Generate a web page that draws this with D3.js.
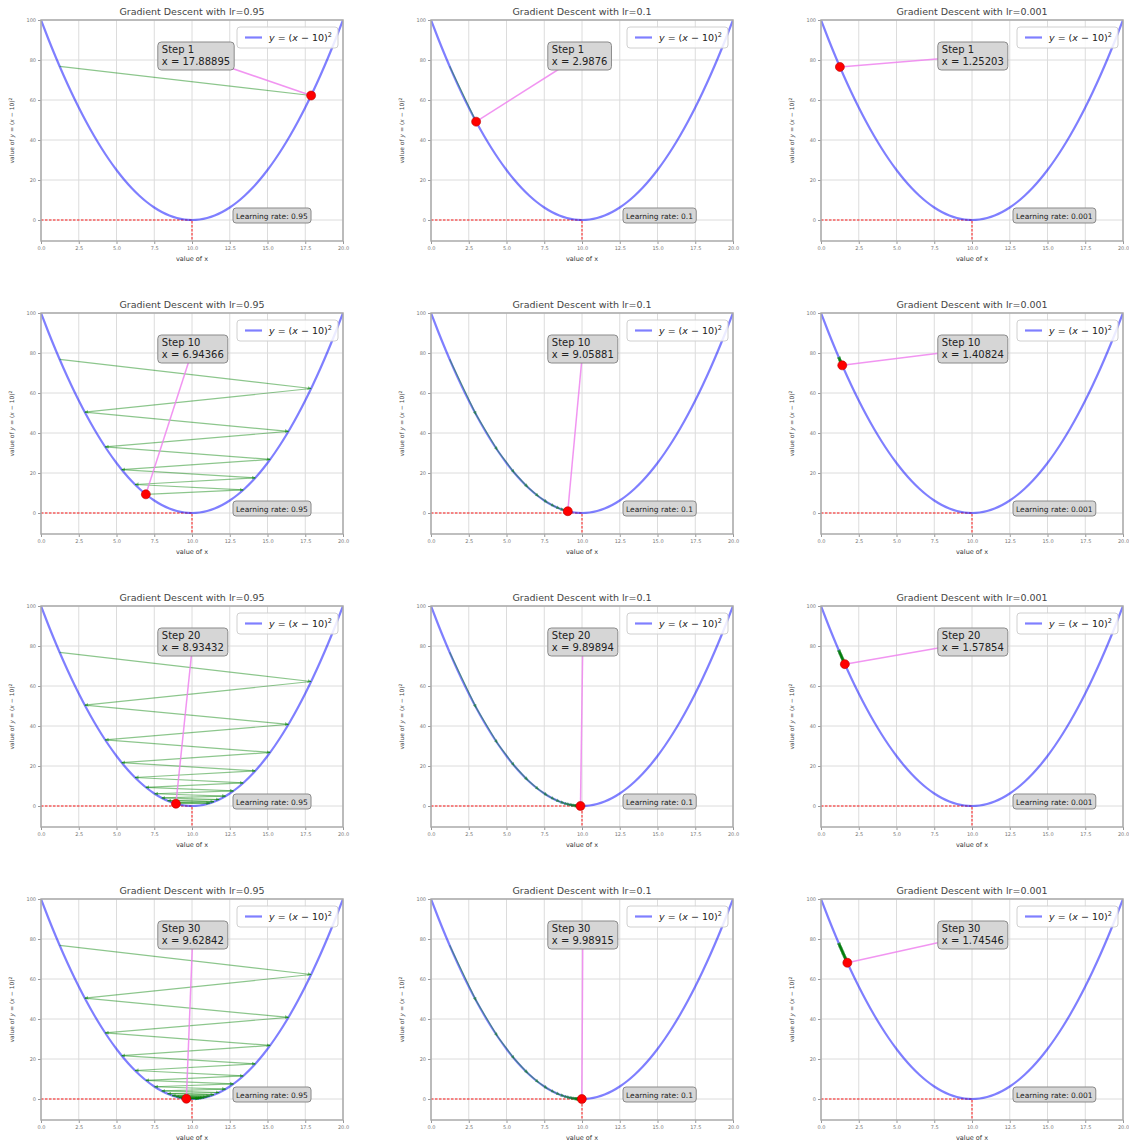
<!DOCTYPE html>
<html>
<head>
<meta charset="utf-8">
<script src="https://cdn.jsdelivr.net/npm/d3@7"></script>
<style>
  body { margin: 0; background: #fff; }
</style>
</head>
<body>
<div id="my_dataviz"></div>
<script>
// data
const learningRates = [0.95, 0.1, 0.001];
const lrLabels = [`0.95`, `0.1`, `0.001`];
const shownSteps = [1, 10, 20, 30];

// parabola samples
const curveX = [0,0.5,1,1.5,2,2.5,3,3.5,4,4.5,5,5.5,6,6.5,7,7.5,8,8.5,9,9.5,10,
                10.5,11,11.5,12,12.5,13,13.5,14,14.5,15,15.5,16,16.5,17,17.5,18,18.5,19,19.5,20];
const curveY = [100,90.25,81,72.25,64,56.25,49,42.25,36,30.25,25,20.25,16,12.25,9,6.25,4,2.25,1,0.25,0,
                0.25,1,2.25,4,6.25,9,12.25,16,20.25,25,30.25,36,42.25,49,56.25,64,72.25,81,90.25,100];

// descent path, steps 0..30
const pathX095 = [1.235,17.889,2.900,16.390,4.249,15.176,5.342,14.193,6.227,13.396,6.944,
                  12.751,7.524,12.228,7.995,11.805,8.376,11.462,8.684,11.184,8.934,
                  10.959,9.137,10.777,9.301,10.629,9.434,10.510,9.541,10.413,9.628];
const pathY095 = [76.83,62.24,50.41,40.83,33.07,26.79,21.70,17.58,14.24,11.53,9.34,
                  7.57,6.13,4.96,4.02,3.26,2.64,2.14,1.73,1.40,1.14,
                  0.92,0.75,0.60,0.49,0.40,0.32,0.26,0.21,0.17,0.14];
const pathX01 = [1.235,2.988,4.390,5.512,6.410,7.128,7.702,8.162,8.529,8.824,9.059,
                 9.247,9.398,9.518,9.615,9.692,9.753,9.803,9.842,9.874,9.899,
                 9.919,9.935,9.948,9.959,9.967,9.974,9.979,9.983,9.986,9.989];
const pathY01 = [76.83,49.17,31.47,20.14,12.89,8.25,5.28,3.38,2.16,1.38,0.89,
                 0.57,0.36,0.23,0.15,0.10,0.06,0.04,0.03,0.02,0.01,
                 0.01,0,0,0,0,0,0,0,0,0];
const pathX0001 = [1.235,1.252,1.270,1.287,1.304,1.322,1.339,1.357,1.374,1.391,1.408,
                   1.425,1.443,1.460,1.477,1.494,1.511,1.528,1.545,1.562,1.579,
                   1.595,1.612,1.629,1.646,1.662,1.679,1.696,1.712,1.729,1.745];
const pathY0001 = [76.83,76.53,76.22,75.92,75.61,75.31,75.01,74.71,74.41,74.12,73.82,
                   73.52,73.23,72.94,72.65,72.36,72.07,71.78,71.49,71.21,70.92,
                   70.64,70.36,70.08,69.79,69.52,69.24,68.96,68.69,68.41,68.14];

// x shown in the step boxes
const labels095 = [`17.88895`, `6.94366`, `8.93432`, `9.62842`];
const labels01 = [`2.9876`, `9.05881`, `9.89894`, `9.98915`];
const labels0001 = [`1.25203`, `1.40824`, `1.57854`, `1.74546`];

const xTicks = [0, 2.5, 5, 7.5, 10, 12.5, 15, 17.5, 20];
const yTicks = [0, 20, 40, 60, 80, 100];

// layout
const width = 1129;
const height = 1141;
const panelLeft = [41, 431, 821];
const panelTop = 20;
const rowGap = 293;
const panelW = 302;
const panelH = 221;
const fontFamily = `"DejaVu Sans", Arial, sans-serif`;
const curveColor = `#0000ff`;
const pathColor = `green`;

const xScale = d3.scaleLinear().domain([0, 20]).range([0, panelW]);
const yScale = d3.scaleLinear().domain([-10.5, 100]).range([panelH, 0]);

var svg;

document.addEventListener(`DOMContentLoaded`, function () {
    svg = d3.select(`#my_dataviz`)
            .append(`svg`)
                .attr(`width`, width)
                .attr(`height`, height)
                .style(`font-family`, fontFamily);

    const defs = svg.append(`defs`);
    defs.append(`marker`)
        .attr(`id`, `arrowHead`)
        .attr(`viewBox`, `0 0 10 10`)
        .attr(`refX`, 9)
        .attr(`refY`, 5)
        .attr(`markerWidth`, 4)
        .attr(`markerHeight`, 4)
        .attr(`markerUnits`, `userSpaceOnUse`)
        .attr(`orient`, `auto`)
      .append(`path`)
        .attr(`d`, `M0,0 L10,5 L0,10 z`)
        .attr(`fill`, pathColor)
        .attr(`fill-opacity`, 0.45);

    defs.append(`clipPath`)
        .attr(`id`, `panelClip`)
      .append(`rect`)
        .attr(`width`, panelW)
        .attr(`height`, panelH);

    const paths = [
        {xs: pathX095, ys: pathY095, labels: labels095},
        {xs: pathX01, ys: pathY01, labels: labels01},
        {xs: pathX0001, ys: pathY0001, labels: labels0001}
    ];

    shownSteps.forEach((step, r) => {
        learningRates.forEach((lr, c) => {
            drawPanel(panelLeft[c], panelTop + r * rowGap, step, lrLabels[c], paths[c], r);
        });
    });
});

const drawPanel = (left, top, step, lrText, path, r) => {
    const g = svg.append(`g`)
                .attr(`transform`, `translate(${left},${top})`);

    // grid
    g.append(`g`).selectAll(`line`)
        .data(xTicks)
        .join(`line`)
        .attr(`x1`, d => xScale(d)).attr(`x2`, d => xScale(d))
        .attr(`y1`, 0).attr(`y2`, panelH)
        .attr(`stroke`, `#dcdcdc`)
        .attr(`stroke-width`, 1);
    g.append(`g`).selectAll(`line`)
        .data(yTicks)
        .join(`line`)
        .attr(`y1`, d => yScale(d)).attr(`y2`, d => yScale(d))
        .attr(`x1`, 0).attr(`x2`, panelW)
        .attr(`stroke`, `#dcdcdc`)
        .attr(`stroke-width`, 1);

    // axes
    const xAxis = g.append(`g`)
        .attr(`transform`, `translate(0,${panelH})`)
        .call(d3.axisBottom(xScale).tickValues(xTicks).tickFormat(d3.format(`.1f`)).tickSize(3).tickPadding(2));
    const yAxis = g.append(`g`)
        .call(d3.axisLeft(yScale).tickValues(yTicks).tickSize(3).tickPadding(2));
    [xAxis, yAxis].forEach(a => {
        a.select(`.domain`).remove();
        a.selectAll(`line`).attr(`stroke`, `#999`);
        a.selectAll(`text`)
            .attr(`fill`, `#777`)
            .style(`font-size`, `5px`)
            .style(`font-family`, fontFamily);
    });

    const plot = g.append(`g`).attr(`clip-path`, `url(#panelClip)`);

    // red marker of the minimum
    plot.append(`path`)
        .attr(`d`, `M${xScale(0)},${yScale(0)} L${xScale(10)},${yScale(0)} L${xScale(10)},${panelH}`)
        .attr(`fill`, `none`)
        .attr(`stroke`, `red`)
        .attr(`stroke-opacity`, 0.6)
        .attr(`stroke-width`, 1.5)
        .attr(`stroke-dasharray`, `2.5,1.5`);

    // the function
    const line = d3.line()
        .x((d, i) => xScale(curveX[i]))
        .y(d => yScale(d))
        .curve(d3.curveMonotoneX);
    plot.append(`path`)
        .datum(curveY)
        .attr(`d`, line)
        .attr(`fill`, `none`)
        .attr(`stroke`, curveColor)
        .attr(`stroke-opacity`, 0.5)
        .attr(`stroke-width`, 2.2);

    // descent steps
    const segs = d3.range(step);
    plot.append(`g`).selectAll(`line`)
        .data(segs)
        .join(`line`)
        .attr(`x1`, i => xScale(path.xs[i]))
        .attr(`y1`, i => yScale(path.ys[i]))
        .attr(`x2`, i => xScale(path.xs[i + 1]))
        .attr(`y2`, i => yScale(path.ys[i + 1]))
        .attr(`stroke`, pathColor)
        .attr(`stroke-opacity`, 0.45)
        .attr(`stroke-width`, 1.2)
        .attr(`marker-end`, `url(#arrowHead)`);

    const px = xScale(path.xs[step]);
    const py = yScale(path.ys[step]);

    // step annotation
    const connector = g.append(`line`)
        .attr(`stroke`, `violet`)
        .attr(`stroke-opacity`, 0.85)
        .attr(`stroke-width`, 1.5);

    g.append(`circle`)
        .attr(`cx`, px)
        .attr(`cy`, py)
        .attr(`r`, 4.5)
        .attr(`fill`, `red`)
        .attr(`stroke`, `#b00`)
        .attr(`stroke-width`, 0.6);

    const boxG = g.append(`g`);
    const boxRect = boxG.append(`rect`);
    const stepText = boxG.append(`text`)
        .attr(`x`, xScale(8))
        .attr(`y`, 33)
        .style(`font-size`, `10px`)
        .attr(`fill`, `#222`);
    stepText.append(`tspan`).attr(`x`, xScale(8)).attr(`y`, 33).text(`Step ${step}`);
    stepText.append(`tspan`).attr(`x`, xScale(8)).attr(`y`, 45).text(`x = ${path.labels[r]}`);
    const bb = stepText.node().getBBox();
    boxRect
        .attr(`x`, bb.x - 4)
        .attr(`y`, 22)
        .attr(`width`, bb.width + 8)
        .attr(`height`, 28)
        .attr(`rx`, 3.5)
        .attr(`fill`, `#d6d6d6`)
        .attr(`stroke`, `#8a8a8a`)
        .attr(`stroke-width`, 1);
    connector
        .attr(`x1`, bb.x + bb.width / 2)
        .attr(`y1`, 36)
        .attr(`x2`, px)
        .attr(`y2`, py);

    // learning rate box
    const lrG = g.append(`g`);
    const lrRect = lrG.append(`rect`);
    const lrLabel = lrG.append(`text`)
        .attr(`x`, 195)
        .attr(`y`, 199)
        .style(`font-size`, `7.5px`)
        .attr(`fill`, `#222`)
        .text(`Learning rate: ${lrText}`);
    const lb = lrLabel.node().getBBox();
    lrRect
        .attr(`x`, lb.x - 3)
        .attr(`y`, 188)
        .attr(`width`, lb.width + 6)
        .attr(`height`, 15)
        .attr(`rx`, 3)
        .attr(`fill`, `#d6d6d6`)
        .attr(`stroke`, `#8a8a8a`)
        .attr(`stroke-width`, 1);

    // legend
    g.append(`rect`)
        .attr(`x`, 196)
        .attr(`y`, 7)
        .attr(`width`, 101)
        .attr(`height`, 21)
        .attr(`rx`, 3)
        .attr(`fill`, `white`)
        .attr(`fill-opacity`, 0.85)
        .attr(`stroke`, `#d0d0d0`);
    g.append(`line`)
        .attr(`x1`, 204).attr(`x2`, 221)
        .attr(`y1`, 17.5).attr(`y2`, 17.5)
        .attr(`stroke`, curveColor)
        .attr(`stroke-opacity`, 0.5)
        .attr(`stroke-width`, 2.2);
    const legText = g.append(`text`)
        .attr(`x`, 228)
        .attr(`y`, 21)
        .style(`font-size`, `9.5px`)
        .attr(`fill`, `#222`);
    legText.append(`tspan`).style(`font-style`, `italic`).text(`y`);
    legText.append(`tspan`).text(` = (`);
    legText.append(`tspan`).style(`font-style`, `italic`).text(`x`);
    legText.append(`tspan`).text(` \u2212 10)`);
    legText.append(`tspan`).attr(`dy`, -4).style(`font-size`, `6.5px`).text(`2`);

    // frame
    g.append(`rect`)
        .attr(`width`, panelW)
        .attr(`height`, panelH)
        .attr(`fill`, `none`)
        .attr(`stroke`, `#aaa`)
        .attr(`stroke-width`, 1.5);

    // title and labels
    g.append(`text`)
        .attr(`x`, panelW / 2)
        .attr(`y`, -5)
        .attr(`text-anchor`, `middle`)
        .style(`font-size`, `9.5px`)
        .attr(`fill`, `#444`)
        .text(`Gradient Descent with lr=${lrText}`);

    g.append(`text`)
        .attr(`x`, panelW / 2)
        .attr(`y`, panelH + 19.5)
        .attr(`text-anchor`, `middle`)
        .style(`font-size`, `6.5px`)
        .attr(`fill`, `#333`)
        .text(`value of x`);

    const yl = g.append(`text`)
        .attr(`transform`, `translate(-27,${panelH / 2}) rotate(-90)`)
        .attr(`text-anchor`, `middle`)
        .style(`font-size`, `6px`)
        .attr(`fill`, `#444`);
    yl.append(`tspan`).text(`value of `);
    yl.append(`tspan`).style(`font-style`, `italic`).text(`y`);
    yl.append(`tspan`).text(` = (`);
    yl.append(`tspan`).style(`font-style`, `italic`).text(`x`);
    yl.append(`tspan`).text(` \u2212 10)`);
    yl.append(`tspan`).attr(`dy`, -2.5).style(`font-size`, `4.5px`).text(`2`);
}
</script>
</body>
</html>
